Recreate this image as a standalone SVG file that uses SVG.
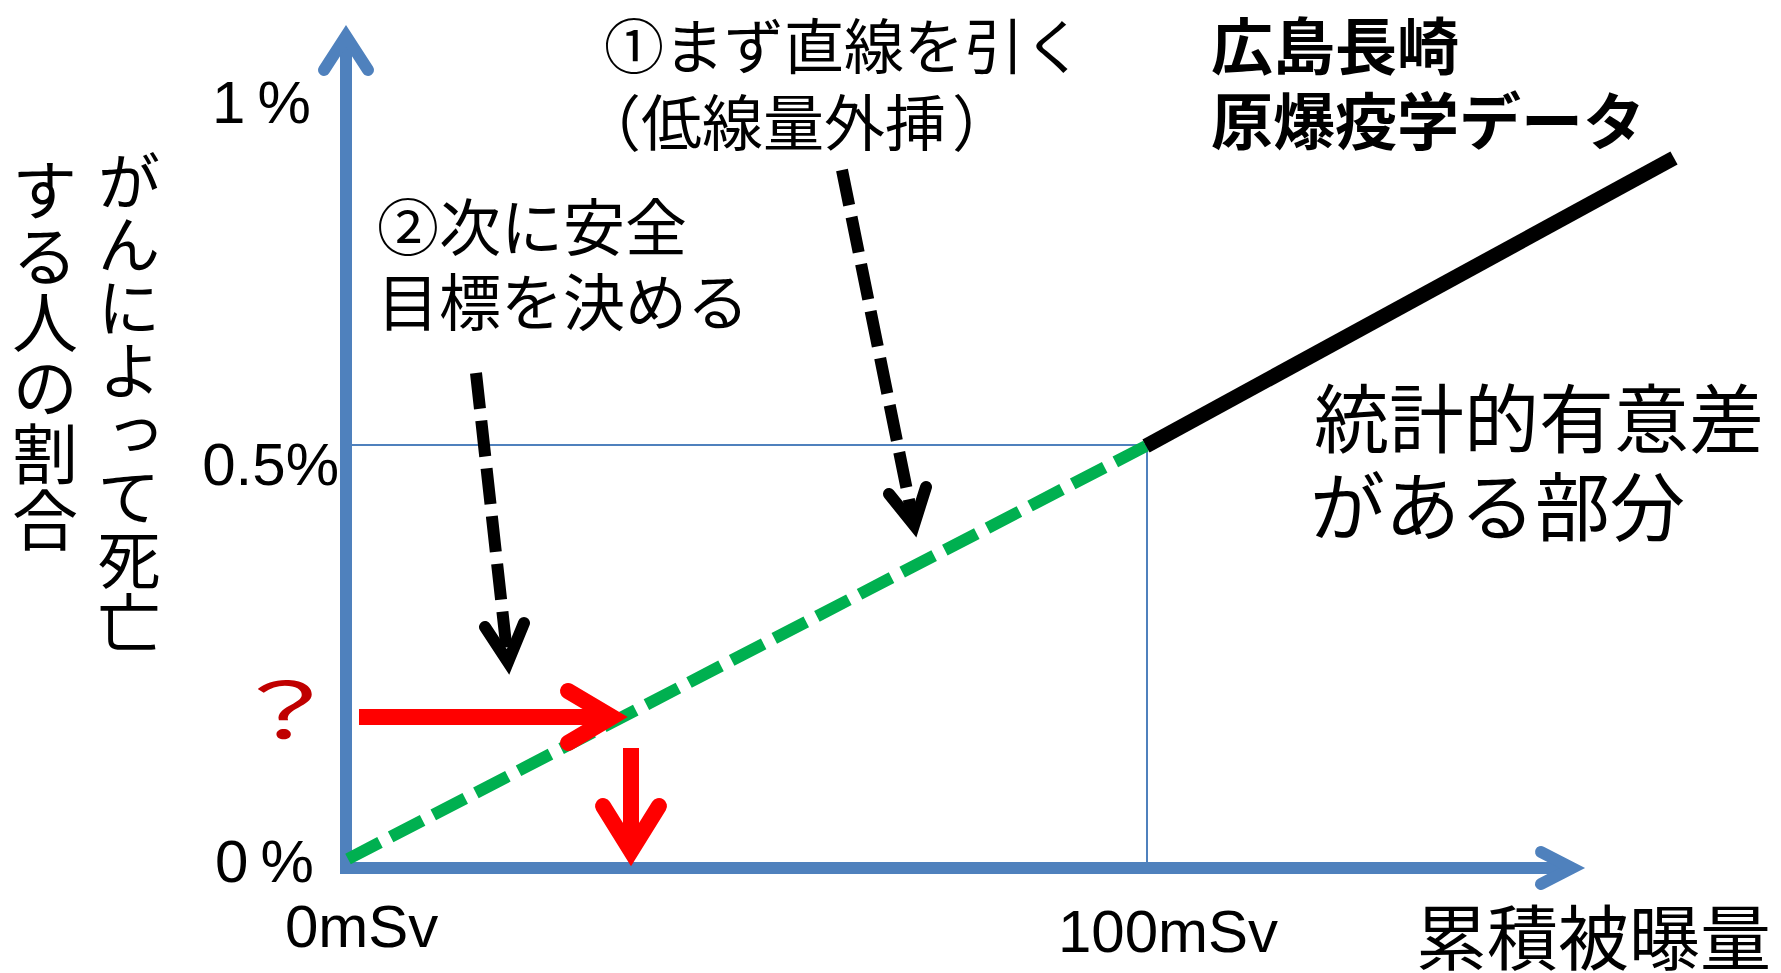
<svg xmlns="http://www.w3.org/2000/svg" width="1781" height="973" viewBox="0 0 1781 973">
<style>
.jp{font-family:"Noto Sans CJK JP","Noto Sans CJK SC",sans-serif;fill:#000}
.bold{font-weight:bold}
.num{font-family:"Liberation Sans",Arial,sans-serif;fill:#000}
.vert{writing-mode:vertical-rl}
.axis{stroke:#4F81BD;stroke-width:12;fill:none}
.axhead{stroke:#4F81BD;stroke-width:12;fill:none;stroke-linecap:round;stroke-linejoin:miter}
.guide{stroke:#4F81BD;stroke-width:2;fill:none}
.green{stroke:#00B050;stroke-width:12;stroke-dasharray:36 12;fill:none}
.data{stroke:#000;stroke-width:15;fill:none}
.bdash{stroke:#000;stroke-width:12;stroke-dasharray:36 12;fill:none}
.bhead{stroke:#000;stroke-width:12;fill:none;stroke-linecap:round;stroke-linejoin:miter}
.red{stroke:#FF0000;stroke-width:16;fill:none}
.redhead{stroke:#FF0000;stroke-width:16;fill:none;stroke-linecap:round;stroke-linejoin:miter}
</style>
<rect width="1781" height="973" fill="#fff"/>
<g id="connectors">
  <g id="guides">
    <line class="guide" x1="352" y1="445" x2="1147" y2="445"/>
    <line class="guide" x1="1147" y1="445" x2="1147" y2="862"/>
  </g>
  <g id="axes">
    <line class="axis" x1="346" y1="874" x2="346" y2="40"/>
    <polyline class="axhead" points="324,70 346,36 368,70"/>
    <line class="axis" x1="346" y1="868" x2="1565" y2="868"/>
    <polyline class="axhead" points="1541,852 1572,868 1541,884"/>
  </g>
  <line id="extrapolation" class="green" x1="348" y1="859" x2="1146" y2="446"/>
  <line id="data-line" class="data" x1="1146" y1="446" x2="1674" y2="158"/>
  <g id="arrow-step1">
    <line class="bdash" x1="842" y1="170" x2="914" y2="525"/>
    <polyline class="bhead" points="889,494 914,525 926,487"/>
  </g>
  <g id="arrow-step2">
    <line class="bdash" x1="476" y1="373" x2="508" y2="662"/>
    <polyline class="bhead" points="485,627 508,662 524,623"/>
  </g>
  <g id="arrow-red-h">
    <line class="red" x1="359" y1="717" x2="605" y2="717"/>
    <polyline class="redhead" points="568,691 612,717 568,743"/>
  </g>
  <g id="arrow-red-v">
    <line class="red" x1="631" y1="748" x2="631" y2="845"/>
    <polyline class="redhead" points="603,806 631,851 659,806"/>
  </g>
</g>
<g id="y-axis-title">
  <text class="jp vert" x="129" y="150" font-size="63">がんによって死亡</text>
  <text class="jp vert" x="45" y="157" font-size="66">する人の割合</text>
</g>
<g id="y-ticks">
  <text class="num" x="212" y="123" font-size="60">1<tspan dx="12">%</tspan></text>
  <text class="num" x="339" y="485" font-size="60" text-anchor="end">0.5%</text>
  <text class="num" x="215" y="882" font-size="60">0<tspan dx="12">%</tspan></text>
</g>
<g id="x-ticks">
  <text class="num" x="285" y="947" font-size="60">0mSv</text>
  <text class="num" x="1058" y="952" font-size="60">100mSv</text>
</g>
<g id="x-axis-title">
  <text class="jp" x="1416" y="964" font-size="71">累積被曝量</text>
</g>
<g id="question">
  <text class="jp" transform="translate(285,739) scale(1.45,1)" font-size="77" text-anchor="middle" style="fill:#C00000">？</text>
</g>
<g id="step1-label">
  <text class="jp" x="604" y="69" font-size="60">①まず直線を引く</text>
  <text class="jp" x="580" y="146" font-size="61">（低線量外挿<tspan dx="6">）</tspan></text>
</g>
<g id="step2-label">
  <text class="jp" x="377" y="251" font-size="62">②次に安全</text>
  <text class="jp" x="377" y="326" font-size="62">目標を決める</text>
</g>
<g id="data-label">
  <text class="jp bold" x="1211" y="70" font-size="62">広島長崎</text>
  <text class="jp bold" x="1211" y="145" font-size="62">原爆疫学データ</text>
</g>
<g id="significant-label">
  <text class="jp" x="1314" y="447" font-size="75">統計的有意差</text>
  <text class="jp" x="1310" y="535" font-size="75">がある部分</text>
</g>
</svg>
